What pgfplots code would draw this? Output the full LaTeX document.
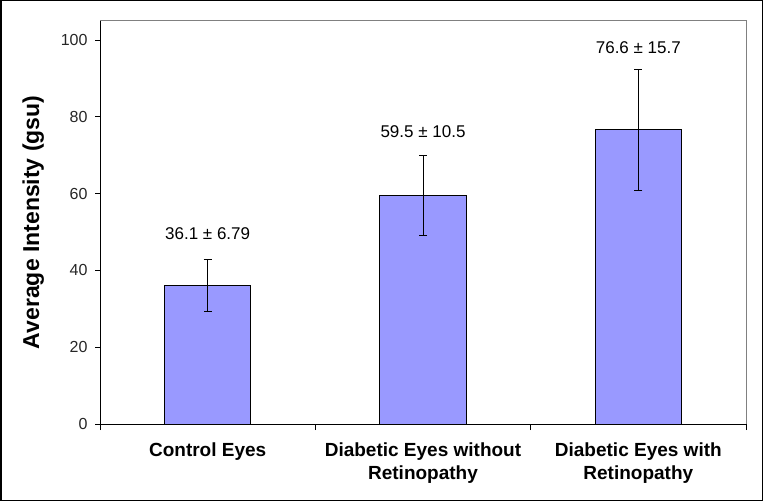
\documentclass[border=0pt]{standalone}
\usepackage{pgfplots}
\pgfplotsset{compat=1.18}
\usepackage{fontspec}
\setmainfont{Liberation Sans}
\definecolor{barfill}{HTML}{9999FF}
\definecolor{framegray}{HTML}{808080}
\begin{document}
\begin{tikzpicture}[x=1pt,y=1pt]
\draw[line width=1.5pt, black] (0.75,0.75) rectangle (762.25,500.25);
\begin{axis}[
  at={(100pt,77pt)}, anchor=south west,
  scale only axis, width=646pt, height=403.3pt,
  xmin=-0.5, xmax=2.5, ymin=0, ymax=105,
  axis x line*=bottom, axis y line*=left,
  axis line style={black, line width=1pt, -},
  ytick={0,20,...,100},
  xtick={0,1,2},
  xticklabels={Control Eyes, Diabetic Eyes without\\Retinopathy, Diabetic Eyes with\\Retinopathy},
  minor xtick={-0.5,0.5,1.5,2.5},
  major tick length=5pt, minor tick length=6pt,
  tick align=outside,
  tick style={black, line width=0.8pt},
  major x tick style={draw=none},
  /pgf/number format/assume math mode=true,
  yticklabel style={font=\fontsize{16}{19}\selectfont, text=black!85, xshift=-4pt},
  xticklabel style={font=\bfseries\fontsize{19}{23}\selectfont, align=center, yshift=-10pt},
  ylabel={Average Intensity (gsu)},
  ylabel style={font=\bfseries\fontsize{23}{26}\selectfont},
  ylabel shift=10pt,
  clip=false,
]
\addplot[ybar, bar width=0.4, fill=barfill, draw=black, line width=0.9pt,
  error bars/.cd, y dir=both, y explicit,
  error bar style={line width=0.9pt, black},
  error mark options={rotate=90, mark size=4pt, line width=0.9pt, black}]
  coordinates {(0,36.1) +- (0,6.79) (1,59.5) +- (0,10.5) (2,76.6) +- (0,15.7)};
\addplot[only marks, mark=*, mark size=0pt, mark options={draw=none, fill=none},
  nodes near coords, point meta=explicit symbolic,
  every node near coord/.style={anchor=base, font=\fontsize{17}{20}\selectfont, inner sep=0pt, text=black}]
  coordinates {(0,48.1) [36.1 ± 6.79] (1,74.6) [59.5 ± 10.5] (2,96.5) [76.6 ± 15.7]};
\draw[framegray, line width=1pt] (rel axis cs:0,1) -- (rel axis cs:1,1) -- (rel axis cs:1,0);
\end{axis}
\end{tikzpicture}
\end{document}
